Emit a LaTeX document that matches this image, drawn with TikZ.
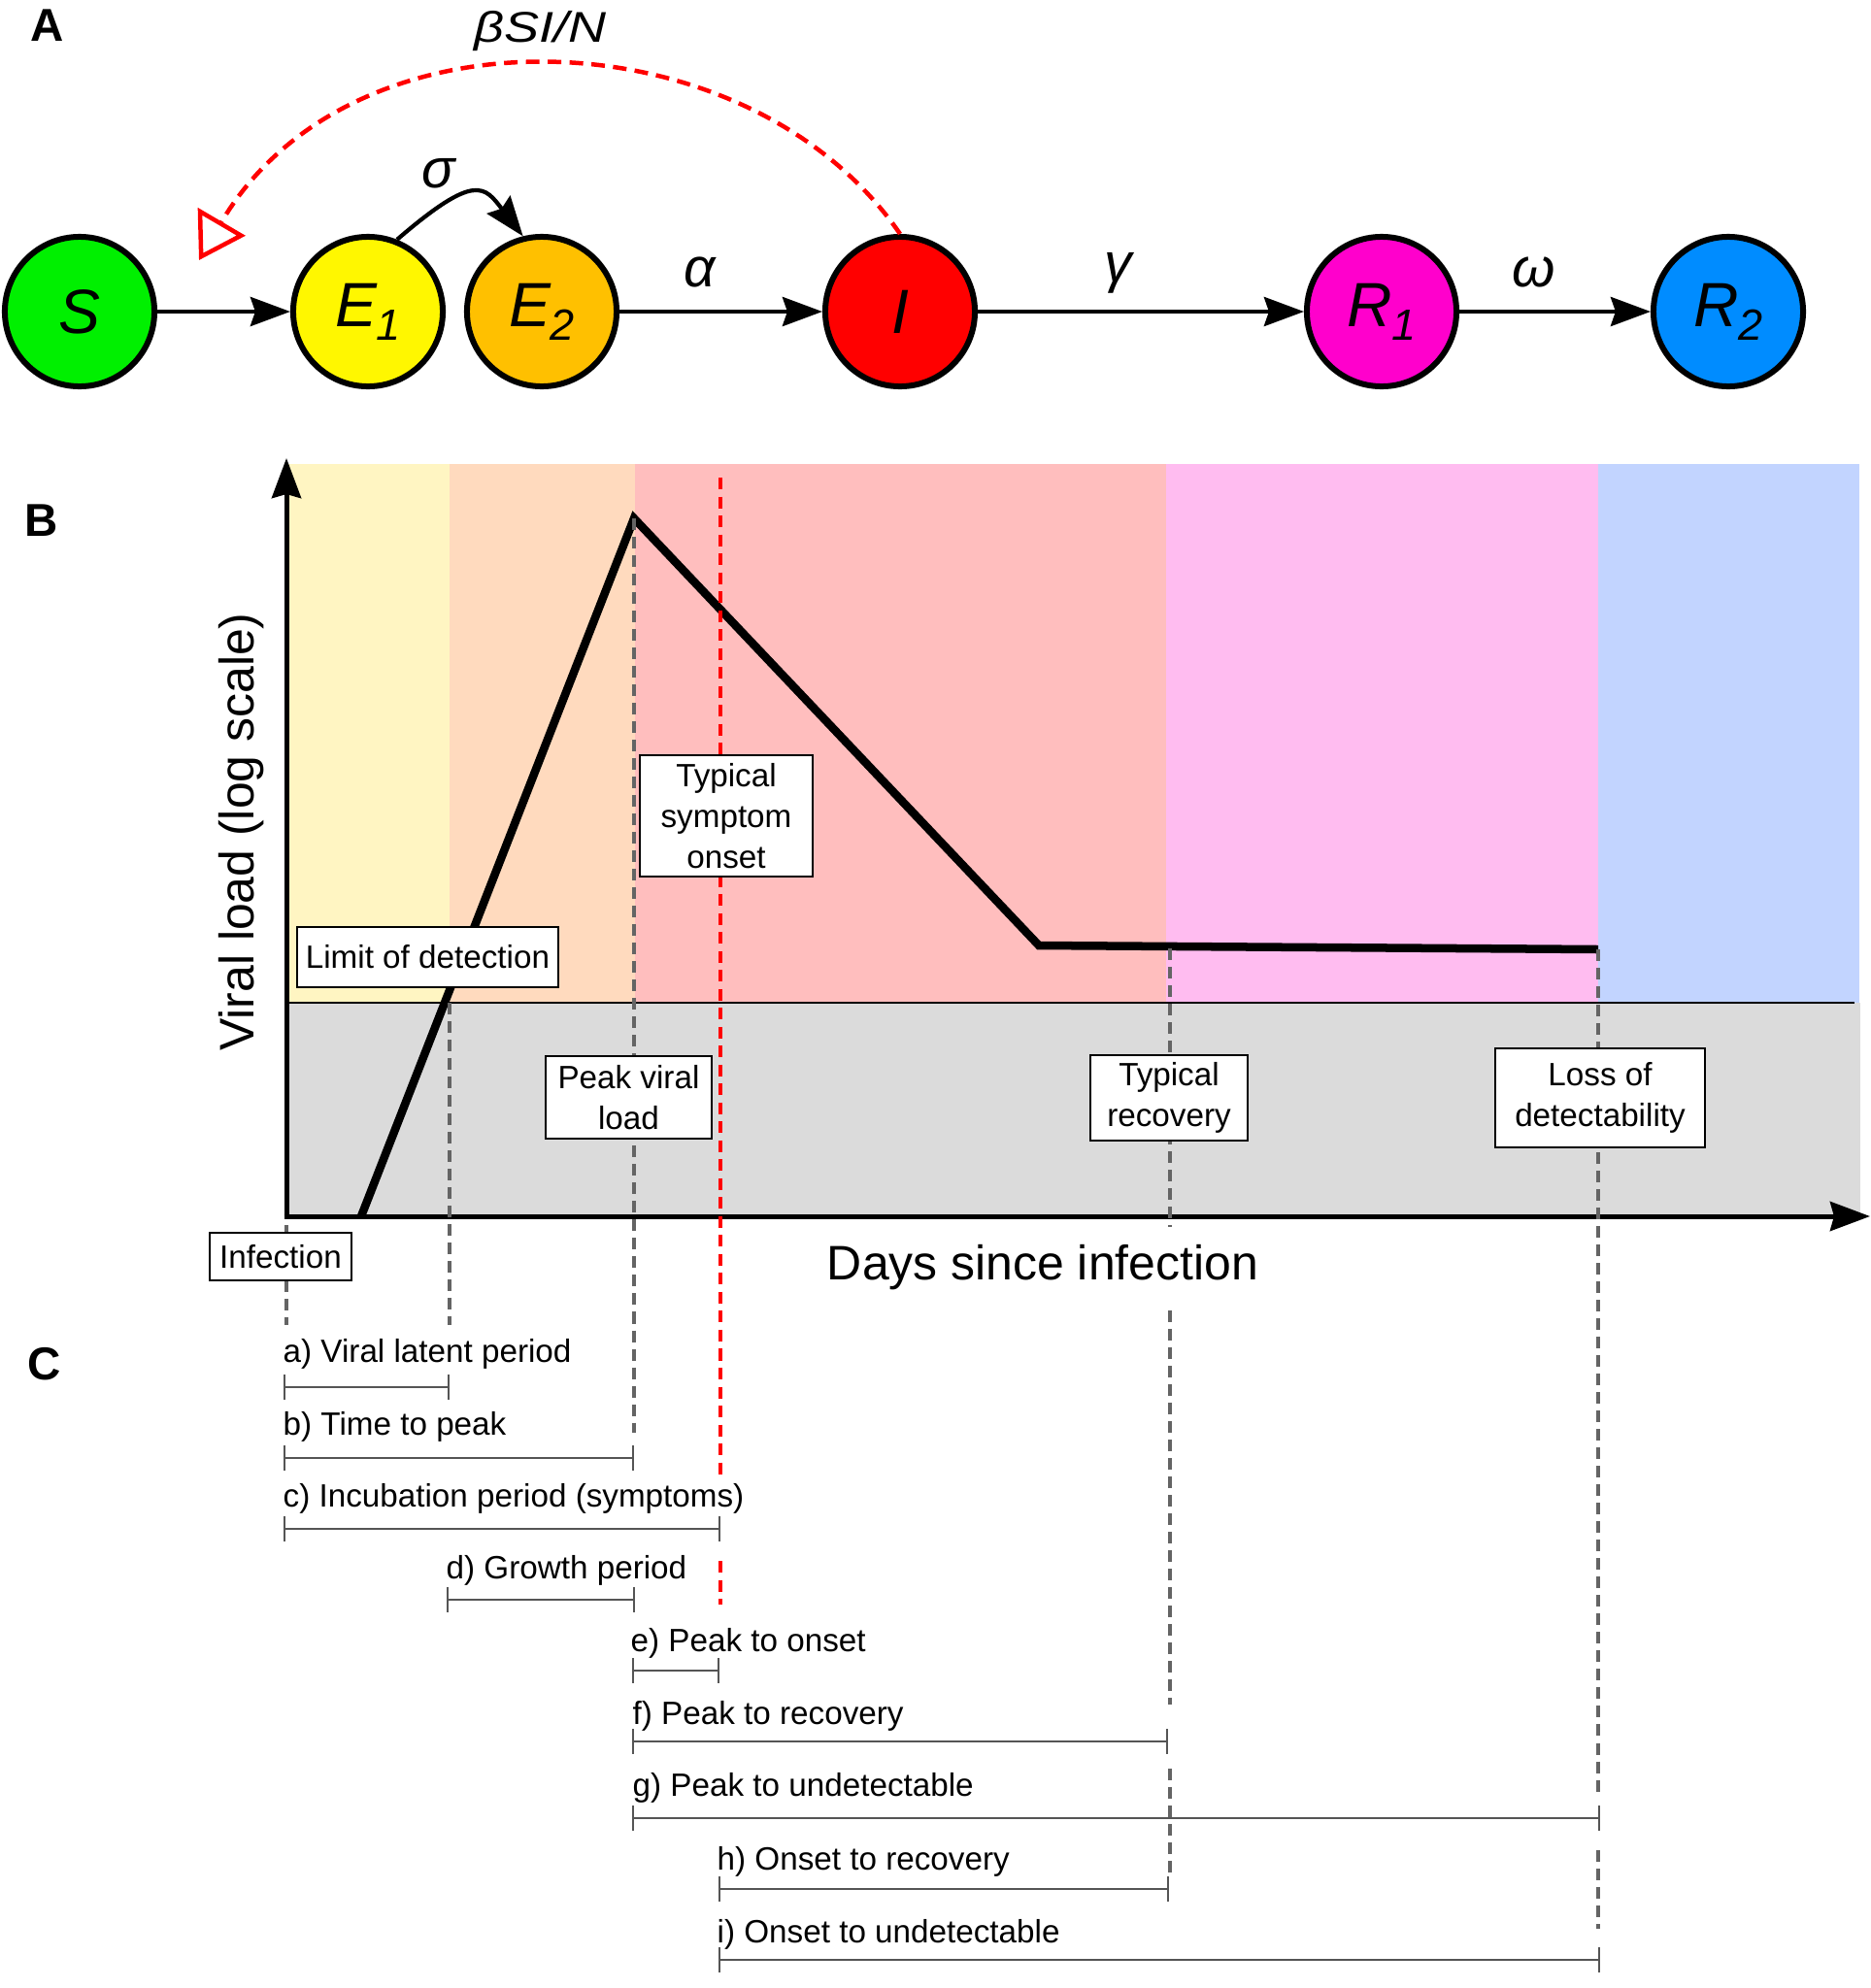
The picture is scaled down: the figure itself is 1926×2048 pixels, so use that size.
\documentclass[tikz,border=0pt]{standalone}
\usepackage{fontspec}
\usepackage{graphicx}
\setmainfont{Liberation Sans}
\usetikzlibrary{arrows.meta}
\definecolor{cS}{RGB}{0,240,0}
\definecolor{cEa}{RGB}{255,247,0}
\definecolor{cEb}{RGB}{255,192,0}
\definecolor{cI}{RGB}{255,0,0}
\definecolor{cRa}{RGB}{255,0,204}
\definecolor{cRb}{RGB}{0,140,255}
\definecolor{bY}{RGB}{255,245,194}
\definecolor{bP}{RGB}{255,218,190}
\definecolor{bR}{RGB}{255,190,190}
\definecolor{bM}{RGB}{255,188,240}
\definecolor{bB}{RGB}{194,212,255}
\definecolor{bG}{RGB}{219,219,219}
\definecolor{dgray}{RGB}{100,100,100}
\definecolor{kgray}{RGB}{85,85,85}
\newcommand{\sbs}[1]{\raisebox{-0.14cm}{\fontsize{12.8}{14}\selectfont #1}}
\tikzset{
  comp/.style={circle, draw=black, line width=0.06cm, minimum size=1.54cm, inner sep=0pt, font=\fontsize{18.3}{20}\selectfont\itshape},
  flow/.style={-{Stealth[length=0.41cm,width=0.30cm,inset=0.05cm]}, line width=0.042cm},
  rate/.style={anchor=base, inner sep=0pt, font=\fontsize{16.2}{18}\selectfont\itshape},
  panel/.style={anchor=base, inner sep=0pt, font=\fontsize{13.5}{15}\selectfont\bfseries},
  lbl/.style={draw=black, fill=white, line width=0.025cm, inner sep=0pt, align=center, font=\fontsize{9.45}{12}\selectfont},
  axlab/.style={inner sep=0pt, font=\fontsize{14.2}{16}\selectfont},
  vdash/.style={draw=dgray, line width=0.042cm, dash pattern=on 0.12cm off 0.07cm},
  rdash/.style={draw=red, line width=0.042cm, dash pattern=on 0.12cm off 0.075cm},
  arcdash/.style={draw=red, line width=0.045cm, dash pattern=on 0.14cm off 0.085cm},
  brk/.style={draw=kgray, line width=0.028cm},
  ctext/.style={anchor=base west, inner sep=0pt, font=\fontsize{9.45}{12}\selectfont}
}
\begin{document}
\begin{tikzpicture}[x=0.01cm,y=-0.01cm]
\useasboundingbox (0,0) rectangle (1926,2048);
% ---------------- Panel A ----------------
\node[panel] (pA) at (49,42) {A};
\node[comp, fill=cS] (nS) at (82,321) {S};
\node[comp, fill=cEa] (nE1) at (379,321) {E\sbs{1}};
\node[comp, fill=cEb] (nE2) at (558,321) {E\sbs{2}};
\node[comp, fill=cI] (nI) at (927,321) {I};
\node[comp, fill=cRa] (nR1) at (1423,321) {R\sbs{1}};
\node[comp, fill=cRb] (nR2) at (1780,321) {R\sbs{2}};
\draw[flow] (nS) -- (nE1);
\draw[flow] (nE2) -- (nI);
\draw[flow] (nI) -- (nR1);
\draw[flow] (nR1) -- (nR2);
\draw[flow] (nE1.68) .. controls (490,177) and (499,192) .. (nE2.104);
\coordinate (betaend) at (205,268);
\draw[arcdash, -{Triangle[open,length=0.46cm,width=0.56cm]}] (nI.north) .. controls (771,14) and (363,-1) .. (betaend);
\node[anchor=base, inner sep=0pt, font=\fontsize{12.6}{14}\selectfont\itshape] (lbeta) at (557,43) {\scalebox{1.22}[1]{βSI/N}};
\node[rate] (lsig) at (452,193) {σ};
\node[rate] (lalp) at (721,295) {α};
\node[rate] (lgam) at (1152,290) {γ};
\node[rate] (lome) at (1580,295) {ω};
% ---------------- Panel B ----------------
\node[panel] (pB) at (43,552) {B};
\fill[bY] (297,478) rectangle (463,1033);
\fill[bP] (463,478) rectangle (654,1033);
\fill[bR] (654,478) rectangle (1201,1033);
\fill[bM] (1201,478) rectangle (1646,1033);
\fill[bB] (1646,478) rectangle (1915,1033);
\fill[bG] (297,1033) rectangle (1916,1253);
\draw[line width=0.025cm] (295,1033) -- (1910,1033);
\coordinate (c0) at (372,1253);
\coordinate (cpk) at (653,534);
\coordinate (crec) at (1070,974);
\coordinate (cend) at (1646,978);
\draw[line width=0.085cm, line join=miter] (c0) -- (cpk) -- (crec) -- (cend);
\draw[line width=0.05cm, -{Stealth[length=0.41cm,width=0.30cm,inset=0.04cm]}] (295,1255.5) -- (295,472);
\draw[line width=0.05cm, -{Stealth[length=0.41cm,width=0.30cm,inset=0.04cm]}] (292.5,1253) -- (1926,1253);
% dashed guides
\draw[vdash] (295,1262) -- (295,1365);
\draw[vdash] (463,1033) -- (463,1365);
\draw[vdash] (653,534) -- (653,1476);
\draw[vdash] (1205,977) -- (1205,1264);
\draw[vdash] (1205,1350) -- (1205,1756);
\draw[vdash] (1205,1822) -- (1205,1935);
\draw[vdash] (1646,978) -- (1646,1846);
\draw[vdash] (1646,1906) -- (1646,1987);
\draw[rdash] (742,492) -- (742,1520);
\draw[rdash] (742,1608) -- (742,1653);
% labels
\node[lbl, minimum width=2.69cm, minimum height=0.62cm] (tlod) at (440.5,986) {Limit of detection};
\node[lbl, minimum width=1.78cm, minimum height=1.25cm] (tons) at (748,840.5) {Typical\\symptom\\onset};
\node[lbl, minimum width=1.71cm, minimum height=0.85cm] (tpk) at (647.5,1130.5) {Peak viral\\load};
\node[lbl, minimum width=1.62cm, minimum height=0.88cm] (trec) at (1204,1131) {Typical\\recovery};
\node[lbl, minimum width=2.16cm, minimum height=1.02cm] (tloss) at (1648,1131) {Loss of\\detectability};
\node[lbl, minimum width=1.46cm, minimum height=0.49cm] (tinf) at (289,1294.5) {Infection};
\node[axlab, anchor=base] (xlab) at (1074,1318) {Days since infection};
\node[axlab, rotate=90, anchor=base] (ylab) at (261,857) {Viral load (log scale)};
% ---------------- Panel C ----------------
\node[panel] (pC) at (46,1421) {C};
\foreach \yy/\xa/\xb in {1429/293/462, 1502/293/652, 1575/293/741, 1648/461/653, 1721/652/740, 1794/652/1202, 1873/652/1647, 1946/741/1203, 2019/741/1647} {
  \draw[brk] (\xa,\yy-13) -- (\xa,\yy+13) (\xa,\yy) -- (\xb,\yy) (\xb,\yy-13) -- (\xb,\yy+13);
}
\node[ctext] (ta) at (291,1403) {a) Viral latent period};
\node[ctext] (tb) at (291,1478) {b) Time to peak};
\node[ctext] (tc) at (291,1552) {c) Incubation period (symptoms)};
\node[ctext] (td) at (459,1626) {d) Growth period};
\node[ctext] (te) at (649,1701) {e) Peak to onset};
\node[ctext] (tf) at (651,1776) {f) Peak to recovery};
\node[ctext] (tg) at (651,1850) {g) Peak to undetectable};
\node[ctext] (th) at (738,1926) {h) Onset to recovery};
\node[ctext] (ti) at (738,2001) {i) Onset to undetectable};
\end{tikzpicture}
\end{document}
